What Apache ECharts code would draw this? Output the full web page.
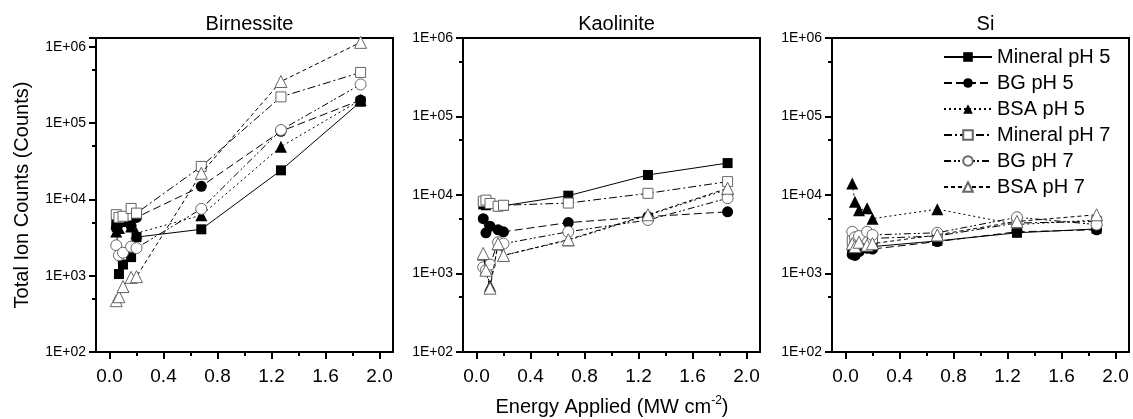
<!DOCTYPE html>
<html>
<head>
<meta charset="utf-8">
<script src="https://cdn.jsdelivr.net/npm/echarts@6/dist/echarts.min.js"></script>
<style>html,body{margin:0;padding:0;background:#fff;}#c{width:1133px;height:419px;}</style>
</head>
<body>
<div id="c"></div>
<script>
// ---- data ----
const panelTitles = ['Birnessite', 'Kaolinite', 'Si'];
const seriesNames = ['Mineral pH 5', 'BG pH 5', 'BSA pH 5', 'Mineral pH 7', 'BG pH 7', 'BSA pH 7'];
const energy = [0.05, 0.07, 0.1, 0.16, 0.2, 0.68, 1.27, 1.86];
// x ticks every 0.2 (labels on every other one: 0.0, 0.4, ... 2.0)
const xTickValues = ['0.0', '0.2', '0.4', '0.6', '0.8', '1.0', '1.2', '1.4', '1.6', '1.8', '2.0'];
// minor y ticks sit at 5 x 10^n
const yMinorFactor = 5;

// Birnessite
const birMineral5 = [5000, 1050, 1400, 1750, 3200, 4050, 24000, 190000];
const birBG5      = [4200, 4800, 5200, 4500, 5800, 14800, 78000, 200000];
const birBSA5     = [3800, 4200, 5200, 4400, 3600, 6200, 49000, 200000];
const birMineral7 = [6300, 5800, 6000, 7600, 6600, 27000, 220000, 460000];
const birBG7      = [2500, 1850, 2000, 2400, 2300, 7500, 81000, 320000];
const birBSA7     = [470, 530, 720, 950, 970, 22000, 350000, 1140000];
// Kaolinite
const kaoMineral5 = [7600, 7400, 7800, 7200, 7300, 9800, 18000, 25500];
const kaoBG5      = [5000, 3300, 4000, 3600, 3400, 4450, 5300, 6100];
const kaoBSA5     = [1750, 1150, 700, 2350, 1700, 2650, 5500, 11800];
const kaoMineral7 = [8300, 8600, 7800, 7200, 7400, 7900, 10500, 14800];
const kaoBG7      = [1200, 1100, 1300, 2500, 2400, 3400, 4800, 9100];
const kaoBSA7     = [1800, 1100, 650, 2400, 1700, 2700, 5600, 12200];
// Si
const siMineral5 = [1900, 1800, 2000, 2100, 2200, 2600, 3300, 3700];
const siBG5      = [1750, 1700, 1900, 2100, 2050, 2550, 3400, 3600];
const siBSA5     = [14000, 8200, 6400, 6800, 5000, 6600, 4200, 4800];
const siMineral7 = [2600, 2800, 2500, 2700, 2800, 3000, 4400, 4600];
const siBG7      = [3400, 2900, 3000, 3400, 3100, 3300, 5200, 4200];
const siBSA7     = [2400, 2200, 2500, 2300, 2400, 3100, 4600, 5600];

const panelData = [
  [birMineral5, birBG5, birBSA5, birMineral7, birBG7, birBSA7],
  [kaoMineral5, kaoBG5, kaoBSA5, kaoMineral7, kaoBG7, kaoBSA7],
  [siMineral5, siBG5, siBSA5, siMineral7, siBG7, siBSA7]
];
const yMaxes = [1300000, 1000000, 1000000];
const X_MIN = -0.1, X_MAX = 2.1, Y_MIN = 100;

// ---- styles ----
const FONT = 'Liberation Sans, Arial, sans-serif';
const styles = [
  {symbol: 'rect', size: 10, open: false, dash: 'solid'},
  {symbol: 'circle', size: 11, open: false, dash: [8, 4]},
  {symbol: 'triangle', size: 12, open: false, dash: [2, 3]},
  {symbol: 'rect', size: 10, open: true, dash: [8, 3, 2, 3]},
  {symbol: 'circle', size: 11, open: true, dash: [7, 3, 2, 2, 2, 3]},
  {symbol: 'triangle', size: 12, open: true, dash: [4, 3]}
];
const gridLefts = [96, 463, 832];
const gridWidth = 297;
const MAJOR = 7, MINOR = 4;
const tickLine = {color: '#000', width: 2};

const grids = [], xAxes = [], yAxes = [], series = [];
// data axes
for (let p = 0; p < 3; p++) {
  grids.push({left: gridLefts[p], top: 38, width: gridWidth, height: 314,
    show: true, borderColor: '#000', borderWidth: 2, backgroundColor: 'transparent'});
  xAxes.push({type: 'value', gridIndex: p, min: X_MIN, max: X_MAX, position: 'bottom',
    axisLine: {show: true, onZero: false, lineStyle: {color: '#000', width: 2}},
    axisTick: {show: false}, axisLabel: {show: false}, splitLine: {show: false}});
  yAxes.push({type: 'log', logBase: 10, gridIndex: p, min: Y_MIN, max: yMaxes[p], position: 'left',
    axisLine: {show: true, onZero: false, lineStyle: {color: '#000', width: 2}},
    axisTick: {show: true, length: MAJOR, lineStyle: tickLine},
    axisLabel: {show: true, margin: 10, color: '#000', fontSize: 14, fontFamily: FONT,
      formatter: v => {
        const l = Math.log10(v);
        return Math.abs(l - Math.round(l)) < 1e-6 ? '1E+0' + Math.round(l) : '';
      }},
    splitLine: {show: false}});
}
// minor x ticks (every 0.2) : category bands centred on the tick values
for (let p = 0; p < 3; p++) {
  xAxes.push({type: 'category', gridIndex: p, data: xTickValues, boundaryGap: true, position: 'bottom', offset: 0,
    axisLine: {show: false, onZero: false},
    axisTick: {show: true, alignWithLabel: true, interval: 0, length: MINOR, lineStyle: tickLine},
    axisLabel: {show: false}, splitLine: {show: false}});
}
// major x ticks + labels (every 0.4)
for (let p = 0; p < 3; p++) {
  xAxes.push({type: 'category', gridIndex: p, data: xTickValues, boundaryGap: true, position: 'bottom', offset: 0,
    axisLine: {show: false, onZero: false},
    axisTick: {show: true, alignWithLabel: true, interval: 1, length: MAJOR, lineStyle: tickLine},
    axisLabel: {show: true, interval: 1, margin: 15, color: '#000', fontSize: 19, fontFamily: FONT},
    splitLine: {show: false}});
}
// minor y ticks at 5 x 10^n : axis in decades, shifted by log10(5)
for (let p = 0; p < 3; p++) {
  const shift = Math.log10(yMinorFactor);
  yAxes.push({type: 'value', gridIndex: p, position: 'left', offset: 0,
    min: Math.log10(Y_MIN) - shift, max: Math.log10(yMaxes[p]) - shift,
    axisLine: {show: false, onZero: false},
    axisTick: {show: true, length: MINOR, lineStyle: tickLine},
    axisLabel: {show: false}, splitLine: {show: false}});
}
for (let p = 0; p < 3; p++) {
  for (let s = 0; s < 6; s++) {
    const st = styles[s];
    series.push({
      name: seriesNames[s], type: 'line', xAxisIndex: p, yAxisIndex: p,
      data: energy.map((x, i) => [x, panelData[p][s][i]]),
      symbol: st.symbol, symbolSize: st.size, showAllSymbol: true,
      lineStyle: {color: '#000', width: 1, type: st.dash},
      itemStyle: st.open ? {color: '#fff', borderColor: '#666', borderWidth: 1}
                         : {color: '#000', borderColor: '#000', borderWidth: 0},
      emphasis: {disabled: true}, silent: true, z: 2 + s
    });
  }
}

const chart = echarts.init(document.getElementById('c'), null, {renderer: 'canvas'});
chart.setOption({
  animation: false,
  backgroundColor: '#fff',
  textStyle: {fontFamily: FONT},
  title: panelTitles.map((t, p) => ({
    text: t, left: gridLefts[p] + gridWidth / 2, top: 9, textAlign: 'center',
    textStyle: {fontSize: 20, fontWeight: 'normal', color: '#000', fontFamily: FONT}
  })),
  legend: {
    data: seriesNames, orient: 'vertical', left: 938, top: 42,
    itemWidth: 48, itemHeight: 12, itemGap: 6,
    textStyle: {fontSize: 20, color: '#000', fontFamily: FONT},
    selectedMode: false
  },
  grid: grids, xAxis: xAxes, yAxis: yAxes, series: series,
  graphic: [
    {type: 'text', x: 22, y: 195, rotation: Math.PI / 2, z: 20,
      style: {text: 'Total Ion Counts (Counts)', fontSize: 20, fontFamily: FONT, fill: '#000',
        align: 'center', verticalAlign: 'middle'}},
    {type: 'text', x: 612, y: 407, z: 20,
      style: {text: '{n|Energy Applied (MW cm}{s|-2}{n|)}', fontFamily: FONT, fill: '#000',
        align: 'center', verticalAlign: 'middle',
        rich: {n: {fontSize: 20, lineHeight: 24, fontFamily: FONT},
               s: {fontSize: 12, lineHeight: 12, verticalAlign: 'top', fontFamily: FONT}}}}
  ]
});
</script>
</body>
</html>
